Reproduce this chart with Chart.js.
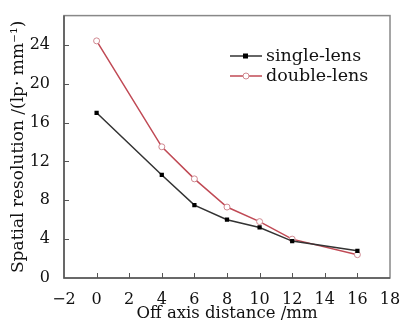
<!DOCTYPE html>
<html>
<head>
<meta charset="utf-8">
<script src="https://cdn.jsdelivr.net/npm/chart.js@4.4.1/dist/chart.umd.min.js"></script>
<style>
  html, body { margin: 0; padding: 0; background: #fff; }
  #wrap { width: 405px; height: 324px; position: relative; }
</style>
</head>
<body>
<div id="wrap"><canvas id="chart"></canvas></div>
<script>
const xValues = [0, 4, 6, 8, 10, 12, 16];
const singleLens = [17.0, 10.6, 7.5, 6.0, 5.2, 3.8, 2.8];
const doubleLens = [24.4, 13.5, 10.2, 7.3, 5.8, 4.0, 2.4];
const xTicks = [-2, 0, 2, 4, 6, 8, 10, 12, 14, 16, 18];
const yTicks = [0, 4, 8, 12, 16, 20, 24];
const seriesNames = ['single-lens', 'double-lens'];

const FONT = 'DejaVu Serif';
const BLACK = '#333333';
const RED = '#c04a55';
const AXIS = '#555555';

const toPoints = (ys) => xValues.map((x, i) => ({ x, y: ys[i] }));

// ticks inside the frame + grey border
const framePlugin = {
  id: 'frame',
  afterDraw(chart) {
    const { ctx, chartArea: a, scales } = chart;
    ctx.save();
    ctx.strokeStyle = '#888';
    ctx.lineWidth = 1.5;
    ctx.strokeRect(a.left, a.top, a.right - a.left, a.bottom - a.top);
    ctx.strokeStyle = AXIS;
    ctx.beginPath();
    ctx.moveTo(a.left, a.top); ctx.lineTo(a.left, a.bottom); ctx.lineTo(a.right, a.bottom);
    ctx.stroke();
    ctx.lineWidth = 1;
    xTicks.slice(1, -1).forEach(v => {
      const px = Math.round(scales.x.getPixelForValue(v)) + 0.5;
      ctx.beginPath(); ctx.moveTo(px, a.bottom); ctx.lineTo(px, a.bottom - 5); ctx.stroke();
    });
    yTicks.slice(1).forEach(v => {
      const py = Math.round(scales.y.getPixelForValue(v)) + 0.5;
      ctx.beginPath(); ctx.moveTo(a.left, py); ctx.lineTo(a.left + 5, py); ctx.stroke();
    });
    ctx.restore();
  }
};

// legend drawn inside the plot
const legendPlugin = {
  id: 'innerLegend',
  afterDraw(chart) {
    const { ctx } = chart;
    const styles = [
      { color: BLACK, marker: 'rect' },
      { color: RED, marker: 'circle' }
    ];
    ctx.save();
    ctx.font = '17.5px "' + FONT + '"';
    ctx.textBaseline = 'middle';
    seriesNames.forEach((name, i) => {
      const y = 56 + i * 20;
      const s = styles[i];
      ctx.strokeStyle = s.color;
      ctx.lineWidth = 1.5;
      ctx.beginPath(); ctx.moveTo(230, y); ctx.lineTo(262, y); ctx.stroke();
      if (s.marker === 'rect') {
        ctx.fillStyle = '#000';
        ctx.fillRect(243, y - 2.5, 5, 5);
      } else {
        ctx.fillStyle = '#fff';
        ctx.strokeStyle = '#d08890';
        ctx.lineWidth = 1;
        ctx.beginPath(); ctx.arc(246, y, 3, 0, Math.PI * 2); ctx.fill(); ctx.stroke();
      }
      ctx.fillStyle = '#111';
      ctx.fillText(name, 266, y);
    });
    ctx.restore();
  }
};

new Chart(document.getElementById('chart').getContext('2d'), {
  type: 'scatter',
  data: {
    datasets: [
      {
        label: seriesNames[0],
        data: toPoints(singleLens),
        showLine: true,
        borderColor: BLACK,
        borderWidth: 1.5,
        pointStyle: 'rect',
        pointRadius: 3,
        pointBackgroundColor: '#000',
        pointBorderColor: '#000',
        pointBorderWidth: 0
      },
      {
        label: seriesNames[1],
        data: toPoints(doubleLens),
        showLine: true,
        borderColor: RED,
        borderWidth: 1.5,
        pointStyle: 'circle',
        pointRadius: 3,
        pointBackgroundColor: '#fff',
        pointBorderColor: '#d08890',
        pointBorderWidth: 1
      }
    ]
  },
  options: {
    responsive: true,
    maintainAspectRatio: false,
    animation: false,
    layout: { padding: { top: 12, right: 15, left: 0, bottom: 0 } },
    plugins: { legend: { display: false }, tooltip: { enabled: false } },
    scales: {
      x: {
        type: 'linear', min: -2, max: 18,
        afterBuildTicks: (s) => { s.ticks = xTicks.map(v => ({ value: v })); },
        afterFit: (s) => { s.height = 46; },
        grid: { display: false },
        border: { display: false },
        ticks: {
          color: '#111', font: { family: FONT, size: 16 }, padding: 4, maxRotation: 0,
          callback: (v) => String(v).replace('-', '\u2212')
        },
        title: { display: true, text: 'Off axis distance /mm', color: '#111', font: { family: FONT, size: 16.5 }, padding: { top: 0, bottom: 0 } }
      },
      y: {
        type: 'linear', min: 0, max: 27,
        afterBuildTicks: (s) => { s.ticks = yTicks.map(v => ({ value: v })); },
        afterFit: (s) => { s.width = 64; },
        grid: { display: false },
        border: { display: false },
        ticks: { color: '#111', font: { family: FONT, size: 16 }, padding: 6 },
        title: { display: true, text: 'Spatial resolution /(lp\u00b7 mm\u207b\u00b9)', color: '#111', font: { family: FONT, size: 17 }, padding: { top: 8, bottom: 0 } }
      }
    }
  },
  plugins: [framePlugin, legendPlugin]
});
</script>
</body>
</html>
